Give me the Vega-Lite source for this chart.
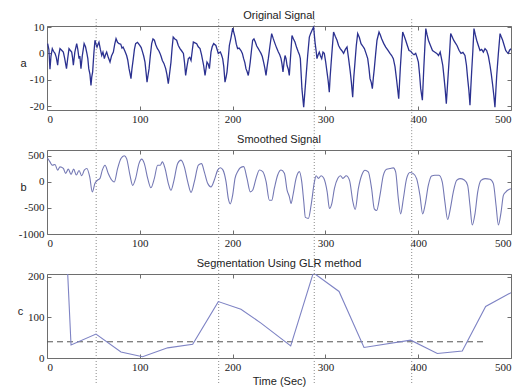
{
  "$schema": "https://vega.github.io/schema/vega-lite/v6.json",
  "background": "white",
  "padding": {"left": 16, "top": 9, "right": 0, "bottom": 0},
  "spacing": 40,
  "bounds": "flush",
  "datasets": {
    "orig": [
      {"t":0.7,"v":3.7},{"t":2,"v":1.5},{"t":3.2,"v":-6},{"t":4.3,"v":-1},{"t":5.7,"v":1.8},{"t":7,"v":0.8},{"t":8.6,"v":0},{"t":10,"v":-1.5},{"t":11.5,"v":-4.5},{"t":12.5,"v":-1},{"t":14,"v":1.8},{"t":15.8,"v":1.2},{"t":17.6,"v":0.5},{"t":19,"v":-1.8},{"t":21,"v":-5.8},{"t":22.3,"v":-2},{"t":23.7,"v":1.8},{"t":25,"v":1.2},{"t":26.6,"v":0.5},{"t":27.5,"v":-1.5},{"t":28.4,"v":-4.5},{"t":30,"v":0.5},{"t":32,"v":3.7},{"t":33.2,"v":1.5},{"t":34.5,"v":-2},{"t":35.4,"v":-1},{"t":36.6,"v":-5.8},{"t":38,"v":-1},{"t":40,"v":3.7},{"t":41.5,"v":2.5},{"t":43,"v":0},{"t":44,"v":-2},{"t":45,"v":-5.8},{"t":46.3,"v":-8},{"t":47.4,"v":-12.2},{"t":48.2,"v":-9},{"t":49.2,"v":-7},{"t":50.5,"v":0},{"t":51.7,"v":5},{"t":52.8,"v":3.5},{"t":53.9,"v":2.4},{"t":55,"v":3.5},{"t":56,"v":4.3},{"t":57.5,"v":1.5},{"t":59,"v":-0.8},{"t":60.3,"v":0.5},{"t":61.8,"v":-2},{"t":63,"v":-0.5},{"t":64.3,"v":0.5},{"t":66,"v":-1.5},{"t":67.9,"v":-3.3},{"t":69.5,"v":-1},{"t":71.5,"v":0.5},{"t":73,"v":3.5},{"t":74.4,"v":5.6},{"t":76,"v":4.2},{"t":77.6,"v":3.7},{"t":79.5,"v":3.5},{"t":80.8,"v":2},{"t":82,"v":2.4},{"t":84,"v":0.8},{"t":85.8,"v":-0.8},{"t":87,"v":-2.5},{"t":88.4,"v":-5.8},{"t":89.4,"v":-7.5},{"t":90.5,"v":-9.6},{"t":91.5,"v":-6},{"t":93,"v":-2},{"t":94.2,"v":1.5},{"t":95.5,"v":3.7},{"t":97.5,"v":4.2},{"t":100,"v":3},{"t":101.5,"v":2.2},{"t":103,"v":0.5},{"t":104.2,"v":-1},{"t":105.6,"v":-3.3},{"t":106.7,"v":-7},{"t":107.8,"v":-10.9},{"t":108.8,"v":-8.5},{"t":110,"v":-5.8},{"t":111.3,"v":-1},{"t":112.8,"v":3.7},{"t":114.2,"v":5.5},{"t":115.7,"v":5},{"t":117.3,"v":3.2},{"t":119,"v":1.8},{"t":120.5,"v":1},{"t":121.8,"v":0},{"t":123,"v":-1.2},{"t":124.3,"v":-2.7},{"t":126,"v":-3.8},{"t":127.9,"v":-5.8},{"t":129.2,"v":-8},{"t":130.7,"v":-11.5},{"t":132,"v":-8},{"t":133.6,"v":-3.3},{"t":134.8,"v":2},{"t":136,"v":6.2},{"t":137.8,"v":5.5},{"t":139.7,"v":5},{"t":141.5,"v":3},{"t":143.3,"v":1.8},{"t":145,"v":1},{"t":147,"v":0},{"t":148.2,"v":-3.5},{"t":149.4,"v":-8.4},{"t":150.8,"v":-5},{"t":152.3,"v":-2},{"t":153.8,"v":-1.5},{"t":155.2,"v":-2.7},{"t":156.5,"v":1},{"t":157.7,"v":4.3},{"t":159.5,"v":4},{"t":161.3,"v":3.7},{"t":163,"v":2.5},{"t":164.9,"v":1.8},{"t":166.5,"v":-0.5},{"t":168.8,"v":-4.6},{"t":170.3,"v":-8.4},{"t":172.4,"v":-3.3},{"t":173.7,"v":-4},{"t":175,"v":-5.8},{"t":176.7,"v":0.5},{"t":178,"v":2.5},{"t":179.6,"v":3.7},{"t":182,"v":3},{"t":183.3,"v":1.5},{"t":184.6,"v":0},{"t":186.8,"v":0.5},{"t":188,"v":-0.5},{"t":189.3,"v":-2},{"t":190.5,"v":-5},{"t":191.8,"v":-10.9},{"t":193,"v":-9},{"t":194,"v":-7},{"t":195.3,"v":-2},{"t":196.5,"v":3},{"t":198.3,"v":6},{"t":200.1,"v":9.6},{"t":201.3,"v":8},{"t":202.6,"v":6.2},{"t":204,"v":3.5},{"t":205.4,"v":1.8},{"t":207,"v":2},{"t":209,"v":1.1},{"t":210.5,"v":0},{"t":211.9,"v":-2},{"t":213.2,"v":-3.5},{"t":214.4,"v":-5.8},{"t":215.7,"v":-7},{"t":216.9,"v":-8.4},{"t":218,"v":-6},{"t":219,"v":-3.3},{"t":220.3,"v":1},{"t":221.6,"v":5},{"t":223,"v":5.5},{"t":224.5,"v":4.3},{"t":226,"v":2.8},{"t":227.7,"v":1.8},{"t":229,"v":1},{"t":230.6,"v":0},{"t":232,"v":-1.2},{"t":233.4,"v":-3.3},{"t":234.7,"v":-5.5},{"t":236,"v":-8.4},{"t":237.2,"v":-5},{"t":238.5,"v":-2},{"t":240.3,"v":3},{"t":242.1,"v":7.5},{"t":243.9,"v":5.5},{"t":245.7,"v":3.7},{"t":247.5,"v":2},{"t":249.3,"v":0.5},{"t":250.8,"v":-0.5},{"t":252.2,"v":-2},{"t":253.2,"v":-4},{"t":254.3,"v":-7},{"t":255.4,"v":-3.5},{"t":256.5,"v":-0.8},{"t":257.6,"v":-2},{"t":258.7,"v":-4.6},{"t":260,"v":-6},{"t":261.1,"v":-8.4},{"t":262.5,"v":-1},{"t":264,"v":6.8},{"t":265.6,"v":5.5},{"t":267.2,"v":4.3},{"t":269,"v":2.2},{"t":270.8,"v":0.5},{"t":272,"v":-0.5},{"t":273,"v":-2},{"t":274.7,"v":-13.4},{"t":276.6,"v":-20.4},{"t":278.7,"v":-10.9},{"t":280.9,"v":-0.8},{"t":282.7,"v":6.2},{"t":284,"v":7.5},{"t":285.5,"v":8.7},{"t":287.3,"v":10},{"t":288.8,"v":4.3},{"t":290,"v":1},{"t":290.9,"v":-2},{"t":292.2,"v":-0.5},{"t":293.4,"v":0.5},{"t":294.7,"v":-1},{"t":296,"v":-2},{"t":297.4,"v":0.5},{"t":298.8,"v":0},{"t":300.2,"v":-3},{"t":301.7,"v":-7},{"t":303,"v":-10.5},{"t":304.2,"v":-14.7},{"t":305.1,"v":-9},{"t":306,"v":-4.6},{"t":307.4,"v":2},{"t":308.8,"v":8.1},{"t":310.6,"v":6.5},{"t":312.5,"v":5},{"t":314.2,"v":3},{"t":316,"v":1.8},{"t":317.8,"v":1},{"t":319.6,"v":0},{"t":321.5,"v":1.5},{"t":323.3,"v":2.4},{"t":325,"v":-2},{"t":326.8,"v":-7},{"t":328,"v":-11},{"t":329.4,"v":-16.6},{"t":330.6,"v":-9},{"t":331.9,"v":-3.3},{"t":333.3,"v":3},{"t":334.8,"v":7.5},{"t":336.6,"v":6},{"t":338.4,"v":3.7},{"t":340.2,"v":2.8},{"t":342,"v":1.8},{"t":343.8,"v":0},{"t":345.6,"v":-2},{"t":346.9,"v":-5.5},{"t":348.1,"v":-9.6},{"t":349.4,"v":-11},{"t":350.6,"v":-13.4},{"t":351.6,"v":-9.5},{"t":352.7,"v":-5.8},{"t":354.2,"v":0},{"t":355.6,"v":5},{"t":357.8,"v":8.1},{"t":359.2,"v":7},{"t":360.6,"v":5.6},{"t":362.8,"v":3.8},{"t":365,"v":2.4},{"t":367.3,"v":1.2},{"t":369.6,"v":0},{"t":371.4,"v":-0.8},{"t":373.2,"v":-2},{"t":375,"v":-5},{"t":376.8,"v":-10.3},{"t":379,"v":-17.2},{"t":380.7,"v":-5.8},{"t":382,"v":1.5},{"t":383.3,"v":8.1},{"t":385,"v":6.5},{"t":386.5,"v":5},{"t":388.3,"v":3},{"t":390.1,"v":1.1},{"t":392,"v":0.8},{"t":393.7,"v":0},{"t":395.5,"v":-0.5},{"t":397.3,"v":0},{"t":398.8,"v":-1.5},{"t":400.2,"v":-3.3},{"t":401.5,"v":-8},{"t":402.7,"v":-13.4},{"t":404.5,"v":-17.8},{"t":406,"v":-5.8},{"t":407.1,"v":2},{"t":408.2,"v":9.4},{"t":409.6,"v":7},{"t":411,"v":5},{"t":413.2,"v":3},{"t":415.4,"v":1.1},{"t":417.7,"v":0.5},{"t":420,"v":0},{"t":421.9,"v":-0.8},{"t":423.7,"v":0.5},{"t":425.1,"v":-2},{"t":426.5,"v":-4.6},{"t":427.8,"v":-9},{"t":429,"v":-13.4},{"t":430.3,"v":-19.1},{"t":431.4,"v":-13},{"t":432.5,"v":-7},{"t":433.8,"v":0},{"t":435,"v":7.5},{"t":436.6,"v":6.3},{"t":438.2,"v":5},{"t":440,"v":4},{"t":441.8,"v":3},{"t":444,"v":1.2},{"t":446.1,"v":0},{"t":448.2,"v":0.4},{"t":450.4,"v":-0.8},{"t":452,"v":-4.5},{"t":453.3,"v":-9.6},{"t":454.6,"v":-14},{"t":455.8,"v":-19.7},{"t":456.7,"v":-13},{"t":457.6,"v":-7},{"t":458.9,"v":1},{"t":460.1,"v":9.4},{"t":461.6,"v":7},{"t":463,"v":5},{"t":464.8,"v":3},{"t":466.6,"v":1.1},{"t":468.4,"v":1.5},{"t":470.2,"v":0.5},{"t":472,"v":1.8},{"t":473.8,"v":1.1},{"t":475.6,"v":-1},{"t":477.4,"v":-4.6},{"t":478.8,"v":-8},{"t":480.3,"v":-12.2},{"t":481.5,"v":-16},{"t":482.7,"v":-20.4},{"t":483.7,"v":-14},{"t":484.6,"v":-8.4},{"t":486.4,"v":0},{"t":488.2,"v":7.5},{"t":489.6,"v":6.2},{"t":491,"v":5},{"t":492.7,"v":3},{"t":494.3,"v":1.1},{"t":495.7,"v":0.5},{"t":497,"v":0},{"t":498.5,"v":1.2},{"t":500,"v":1.8}
    ],
    "smooth": [
      {"t":0.5,"v":460},{"t":3.2,"v":386},{"t":5.7,"v":323},{"t":8.6,"v":335},{"t":11.5,"v":228},{"t":14,"v":291},{"t":17.6,"v":260},{"t":20.1,"v":165},{"t":23,"v":247},{"t":25.9,"v":146},{"t":28.7,"v":247},{"t":31.6,"v":133},{"t":34.5,"v":222},{"t":37.4,"v":120},{"t":40.2,"v":228},{"t":43,"v":260},{"t":46,"v":101},{"t":48.8,"v":-190},{"t":51.7,"v":-25},{"t":54.6,"v":38},{"t":57.1,"v":70},{"t":59.6,"v":228},{"t":62.5,"v":323},{"t":66,"v":165},{"t":69.7,"v":38},{"t":72.5,"v":0},{"t":76.1,"v":260},{"t":79.7,"v":450},{"t":83.3,"v":505},{"t":85.8,"v":450},{"t":89.4,"v":133},{"t":92.3,"v":-65},{"t":95.5,"v":70},{"t":99.1,"v":354},{"t":102,"v":440},{"t":104.9,"v":354},{"t":108.5,"v":70},{"t":112,"v":-110},{"t":115.7,"v":70},{"t":119.2,"v":323},{"t":122.1,"v":323},{"t":124.3,"v":386},{"t":127.2,"v":260},{"t":130.7,"v":-25},{"t":133.6,"v":-160},{"t":136.5,"v":6},{"t":140.8,"v":354},{"t":144.4,"v":420},{"t":148,"v":291},{"t":151.6,"v":6},{"t":155.2,"v":-200},{"t":158.8,"v":6},{"t":163.1,"v":323},{"t":166.5,"v":354},{"t":169.5,"v":196},{"t":173.1,"v":-25},{"t":176.7,"v":-95},{"t":180.3,"v":38},{"t":183.9,"v":228},{"t":186.8,"v":275},{"t":189.7,"v":228},{"t":192.9,"v":6},{"t":195.4,"v":-320},{"t":197.5,"v":-420},{"t":200.1,"v":-250},{"t":202.6,"v":70},{"t":205.5,"v":200},{"t":208.3,"v":275},{"t":212,"v":295},{"t":215.5,"v":70},{"t":219.1,"v":-190},{"t":221.7,"v":-155},{"t":225.3,"v":70},{"t":228.9,"v":230},{"t":232.5,"v":200},{"t":236.1,"v":6},{"t":239.6,"v":-350},{"t":242.2,"v":-350},{"t":245,"v":-120},{"t":248.6,"v":135},{"t":252.2,"v":230},{"t":255.8,"v":170},{"t":258.7,"v":-155},{"t":261.2,"v":-285},{"t":263,"v":-415},{"t":265.1,"v":-250},{"t":268.4,"v":70},{"t":272,"v":200},{"t":274.5,"v":6},{"t":276.7,"v":-380},{"t":278.4,"v":-680},{"t":281.7,"v":-700},{"t":284.6,"v":-445},{"t":288.2,"v":6},{"t":290,"v":120},{"t":292.5,"v":70},{"t":295.4,"v":120},{"t":298.3,"v":70},{"t":301.9,"v":-190},{"t":304.4,"v":-510},{"t":306.9,"v":-415},{"t":309.8,"v":-120},{"t":313.4,"v":70},{"t":316.3,"v":120},{"t":318.8,"v":70},{"t":322.4,"v":120},{"t":326,"v":32},{"t":329.6,"v":-380},{"t":332.1,"v":-530},{"t":335.5,"v":-129},{"t":339.1,"v":129},{"t":342.7,"v":226},{"t":346.2,"v":194},{"t":349.8,"v":-129},{"t":352.7,"v":-516},{"t":355.2,"v":-548},{"t":358.8,"v":-258},{"t":362.4,"v":129},{"t":366,"v":245},{"t":369.6,"v":258},{"t":373.2,"v":271},{"t":375.7,"v":194},{"t":378.6,"v":-322},{"t":381.1,"v":-613},{"t":384,"v":-322},{"t":387.5,"v":65},{"t":391.1,"v":181},{"t":394.7,"v":161},{"t":398.3,"v":65},{"t":401.9,"v":-258},{"t":404.8,"v":-613},{"t":407.3,"v":-452},{"t":410.9,"v":-65},{"t":414.4,"v":116},{"t":418,"v":129},{"t":422.4,"v":129},{"t":425.9,"v":0},{"t":428.8,"v":-387},{"t":431.7,"v":-722},{"t":434.6,"v":-516},{"t":437.8,"v":-194},{"t":441.4,"v":32},{"t":445,"v":65},{"t":449.7,"v":39},{"t":453.3,"v":-65},{"t":455.8,"v":-452},{"t":458.3,"v":-826},{"t":461.2,"v":-613},{"t":464.1,"v":-194},{"t":467.7,"v":32},{"t":472,"v":65},{"t":477.4,"v":52},{"t":481,"v":-32},{"t":483.9,"v":-452},{"t":486.4,"v":-826},{"t":489.3,"v":-580},{"t":491.8,"v":-258},{"t":494.3,"v":-194},{"t":497.2,"v":-150},{"t":500,"v":-130}
    ],
    "glr": [
      {"t":20,"v":320},{"t":25.9,"v":32},{"t":52.8,"v":59},{"t":79.7,"v":15},{"t":103,"v":3},{"t":130,"v":25},{"t":157,"v":34},{"t":184.6,"v":139},{"t":209,"v":120},{"t":230.6,"v":86},{"t":262.6,"v":30},{"t":287,"v":210},{"t":314.7,"v":164},{"t":341.6,"v":26},{"t":391.9,"v":44},{"t":420.6,"v":11},{"t":447.5,"v":17},{"t":472.7,"v":127},{"t":500,"v":161}
    ],
    "thr": [{"t":0,"v":40},{"t":474,"v":40}],
    "cuts": [{"t":53},{"t":185},{"t":288},{"t":393}]
  },
  "vconcat": [
    {
      "width": 464, "height": 84,
      "title": {"text": "Original Signal", "offset": -2},
      "layer": [
        {
          "data": {"name": "cuts"},
          "mark": {"type": "rule", "clip": false, "color": "#8a8a8a", "strokeDash": [1, 2], "strokeWidth": 1},
          "encoding": {
            "x": {"field": "t", "type": "quantitative", "scale": {"domain": [0, 500], "nice": false, "zero": false}, "axis": null},
            "y": {"datum": 13, "scale": {"domain": [-21.5, 10.4], "nice": false, "zero": false}, "axis": null},
            "y2": {"datum": -36.3}
          }
        },
        {
          "data": {"name": "orig"},
          "mark": {"type": "line", "color": "#2b3190", "strokeWidth": 1.3, "clip": true},
          "encoding": {
            "x": {"field": "t", "type": "quantitative", "scale": {"domain": [0, 500], "nice": false, "zero": false}, "axis": {"orient": "bottom", "values": [0, 100, 200, 300, 400, 500], "title": null, "format": "d"}},
            "y": {"field": "v", "type": "quantitative", "scale": {"domain": [-21.5, 10.4], "nice": false, "zero": false}, "axis": {"orient": "left", "values": [-20, -10, 0, 10], "title": "a", "format": "d"}}
          }
        },
        {
          "data": {"name": "orig"},
          "mark": {"type": "line", "opacity": 0},
          "encoding": {
            "x": {"field": "t", "type": "quantitative", "scale": {"domain": [0, 500], "nice": false, "zero": false}, "axis": {"orient": "top", "labels": false, "values": [0, 100, 200, 300, 400, 500], "title": null}},
            "y": {"field": "v", "type": "quantitative", "scale": {"domain": [-21.5, 10.4], "nice": false, "zero": false}, "axis": {"orient": "right", "labels": false, "values": [-20, -10, 0, 10], "title": null}}
          }
        }
      ],
      "resolve": {"axis": {"x": "independent", "y": "independent"}}
    },
    {
      "width": 464, "height": 84,
      "title": {"text": "Smoothed Signal", "offset": 5},
      "layer": [
        {
          "data": {"name": "cuts"},
          "mark": {"type": "rule", "clip": false, "color": "#8a8a8a", "strokeDash": [1, 2], "strokeWidth": 1},
          "encoding": {
            "x": {"field": "t", "type": "quantitative", "scale": {"domain": [0, 500], "nice": false, "zero": false}, "axis": null},
            "y": {"datum": 615, "scale": {"domain": [-1000, 615], "nice": false, "zero": false}, "axis": null},
            "y2": {"datum": -1790}
          }
        },
        {
          "data": {"name": "smooth"},
          "mark": {"type": "line", "color": "#7478b4", "strokeWidth": 1.1, "interpolate": "monotone", "clip": true},
          "encoding": {
            "x": {"field": "t", "type": "quantitative", "scale": {"domain": [0, 500], "nice": false, "zero": false}, "axis": {"orient": "bottom", "values": [0, 100, 200, 300, 400, 500], "title": null, "format": "d"}},
            "y": {"field": "v", "type": "quantitative", "scale": {"domain": [-1000, 615], "nice": false, "zero": false}, "axis": {"orient": "left", "values": [-1000, -500, 0, 500], "title": "b", "format": "d"}}
          }
        },
        {
          "data": {"name": "smooth"},
          "mark": {"type": "line", "opacity": 0},
          "encoding": {
            "x": {"field": "t", "type": "quantitative", "scale": {"domain": [0, 500], "nice": false, "zero": false}, "axis": {"orient": "top", "labels": false, "values": [0, 100, 200, 300, 400, 500], "title": null}},
            "y": {"field": "v", "type": "quantitative", "scale": {"domain": [-1000, 615], "nice": false, "zero": false}, "axis": {"orient": "right", "labels": false, "values": [-1000, -500, 0, 500], "title": null}}
          }
        }
      ],
      "resolve": {"axis": {"x": "independent", "y": "independent"}}
    },
    {
      "width": 464, "height": 84,
      "title": {"text": "Segmentation Using GLR method", "offset": 2},
      "layer": [
        {
          "data": {"name": "cuts"},
          "mark": {"type": "rule", "clip": false, "color": "#8a8a8a", "strokeDash": [1, 2], "strokeWidth": 1},
          "encoding": {
            "x": {"field": "t", "type": "quantitative", "scale": {"domain": [0, 500], "nice": false, "zero": false}, "axis": null},
            "y": {"datum": 207, "scale": {"domain": [0, 207], "nice": false, "zero": false}, "axis": null},
            "y2": {"datum": -65}
          }
        },
        {
          "data": {"name": "thr"},
          "mark": {"type": "rule", "color": "#555555", "strokeDash": [6, 4], "strokeWidth": 1},
          "encoding": {
            "x": {"field": "t", "aggregate": "min", "type": "quantitative", "scale": {"domain": [0, 500], "nice": false, "zero": false}, "axis": null},
            "x2": {"field": "t", "aggregate": "max"},
            "y": {"field": "v", "aggregate": "mean", "type": "quantitative", "scale": {"domain": [0, 207], "nice": false, "zero": false}, "axis": null}
          }
        },
        {
          "data": {"name": "glr"},
          "mark": {"type": "line", "color": "#7e83c4", "strokeWidth": 1.1, "clip": true},
          "encoding": {
            "x": {"field": "t", "type": "quantitative", "scale": {"domain": [0, 500], "nice": false, "zero": false}, "axis": {"orient": "bottom", "values": [0, 100, 200, 300, 400, 500], "title": "Time (Sec)", "format": "d"}},
            "y": {"field": "v", "type": "quantitative", "scale": {"domain": [0, 207], "nice": false, "zero": false}, "axis": {"orient": "left", "values": [0, 100, 200], "title": "c", "titleX": -27, "format": "d"}}
          }
        },
        {
          "data": {"name": "glr"},
          "mark": {"type": "line", "opacity": 0, "clip": true},
          "encoding": {
            "x": {"field": "t", "type": "quantitative", "scale": {"domain": [0, 500], "nice": false, "zero": false}, "axis": {"orient": "top", "labels": false, "values": [0, 100, 200, 300, 400, 500], "title": null}},
            "y": {"field": "v", "type": "quantitative", "scale": {"domain": [0, 207], "nice": false, "zero": false}, "axis": {"orient": "right", "labels": false, "values": [0, 100, 200], "title": null}}
          }
        }
      ],
      "resolve": {"axis": {"x": "independent", "y": "independent"}}
    }
  ],
  "config": {
    "font": "Liberation Sans",
    "locale": {"number": {"decimal": ".", "thousands": "", "grouping": [3], "currency": ["$", ""], "minus": "-"}},
    "view": {"stroke": "#6e6e6e", "strokeWidth": 1},
    "title": {"font": "Liberation Sans", "fontSize": 11, "fontWeight": "normal", "color": "#222222", "anchor": "middle", "frame": "group", "baseline": "middle"},
    "axis": {
      "domain": false,
      "grid": false,
      "ticks": true,
      "tickSize": -4,
      "tickColor": "#6e6e6e",
      "labelFont": "Liberation Serif",
      "labelFontSize": 11,
      "labelColor": "#222222",
      "labelPadding": 7,
      "titleFont": "Liberation Sans",
      "titleFontSize": 11,
      "titleFontWeight": "normal",
      "titleColor": "#222222"
    },
    "axisLeft": {"titleAngle": 0, "titleAlign": "center", "titleBaseline": "middle", "titleX": -24, "titleY": 37},
    "axisBottom": {"titlePadding": 3}
  }
}
